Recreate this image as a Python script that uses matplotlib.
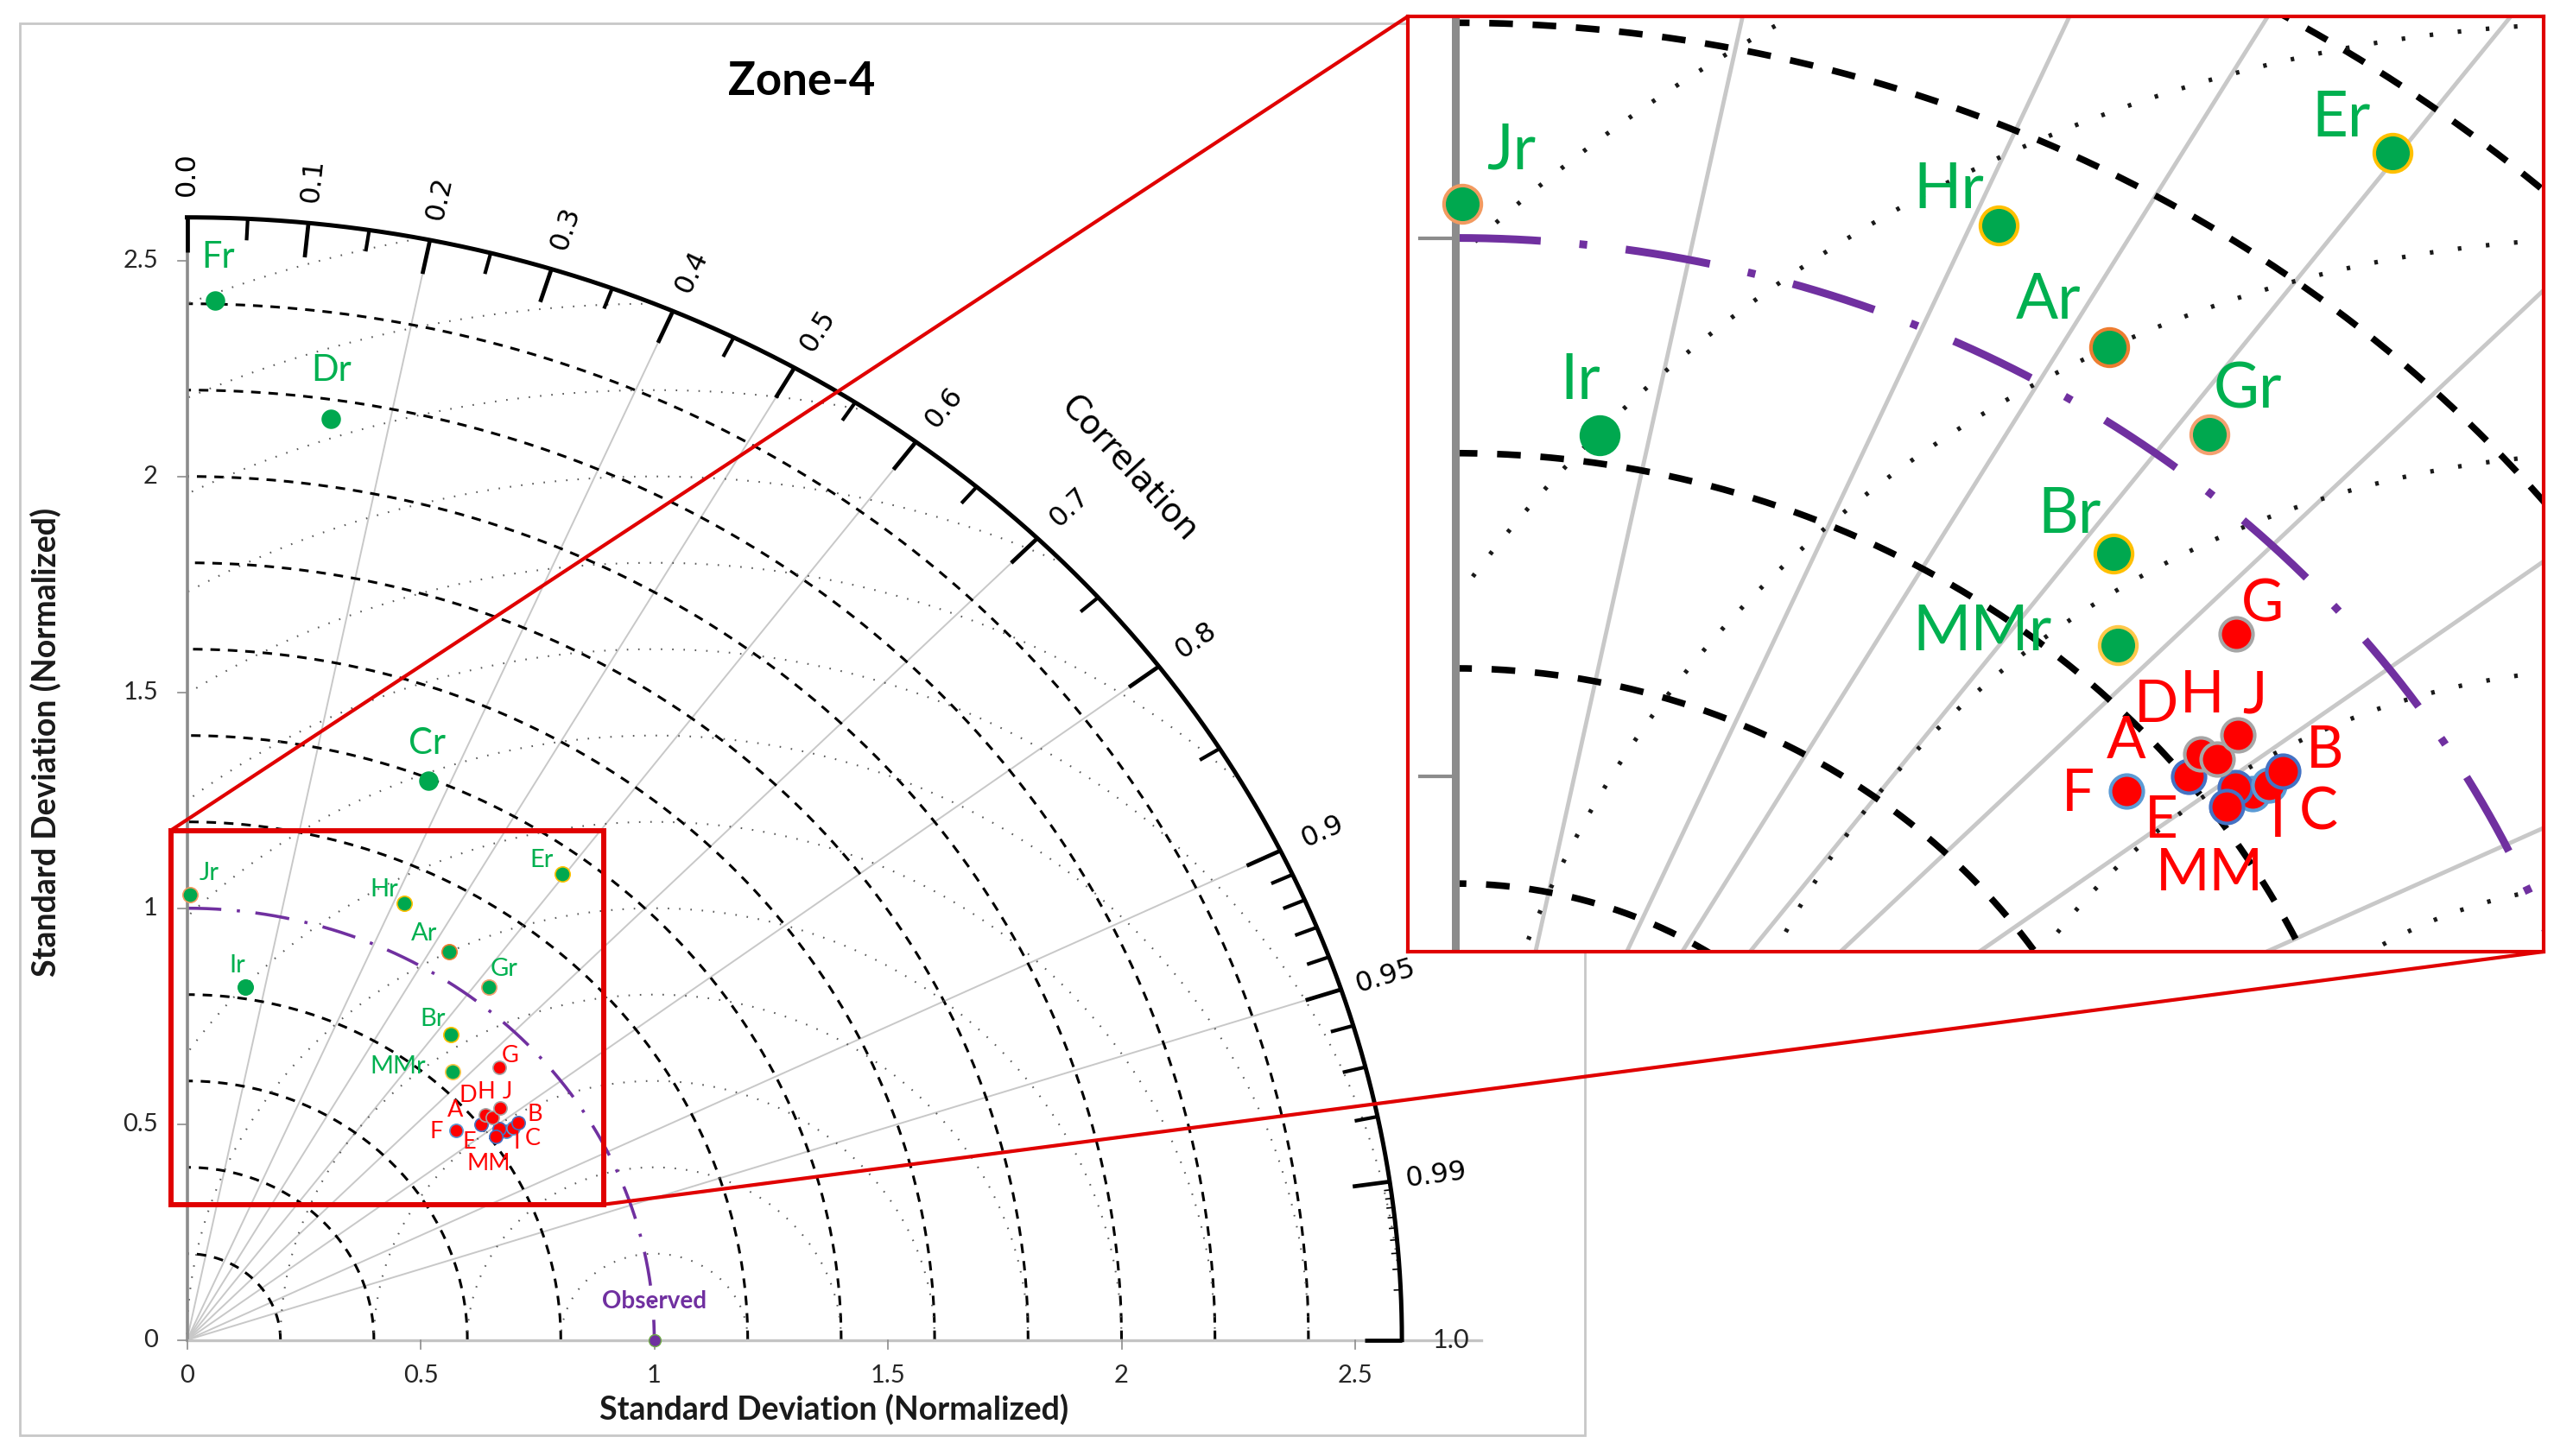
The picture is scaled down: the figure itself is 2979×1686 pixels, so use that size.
import numpy as np
import matplotlib
matplotlib.use("Agg")
import matplotlib.pyplot as plt
from matplotlib.patches import Rectangle, ConnectionPatch

# ---------------- data (normalized std and correlation of each run) ----------------
green_names = ["Fr", "Dr", "Cr", "Jr", "Hr", "Er", "Ar", "Ir", "Gr", "Br", "MMr"]
green_std = [2.408, 2.156, 1.394, 1.032, 1.114, 1.345, 1.059, 0.826, 1.042, 0.904, 0.842]
green_corr = [0.025, 0.143, 0.371, 0.006, 0.418, 0.597, 0.529, 0.150, 0.620, 0.624, 0.674]
green_edges = ["#00a84f", "#00a84f", "#00a84f", "#f29a60", "#ffc000", "#ffc000",
               "#ed7d31", "#00a84f", "#f4a070", "#ffc000", "#ffc84a"]

red_names = ["I", "MM", "C", "B", "E", "F", "A", "D", "H", "J", "G"]
red_std = [0.837, 0.828, 0.853, 0.870, 0.812, 0.753, 0.803, 0.824, 0.832, 0.860, 0.920]
red_corr = [0.816, 0.807, 0.817, 0.815, 0.814, 0.764, 0.783, 0.775, 0.785, 0.780, 0.727]
red_edges = ["#5b9bd5", "#4472c4", "#5b9bd5", "#4472c4", "#4472c4", "#5b9bd5",
             "#4472c4", "#a6a6a6", "#a6a6a6", "#a6a6a6", "#a6a6a6"]

obs_std = 1.0
corr_lines = [0.2, 0.4, 0.5, 0.6, 0.7, 0.8, 0.9, 0.95]
corr_major = [0.1, 0.2, 0.3, 0.4, 0.5, 0.6, 0.7, 0.8, 0.9, 0.95, 0.99]
corr_minor = [0.05, 0.15, 0.25, 0.35, 0.45, 0.55, 0.65, 0.75, 0.85,
              0.91, 0.92, 0.93, 0.94, 0.96, 0.97, 0.98]
corr_tiny = [0.991, 0.992, 0.993, 0.994, 0.995, 0.996, 0.997, 0.998, 0.999]
corr_labels = ["0.0", "0.1", "0.2", "0.3", "0.4", "0.5", "0.6", "0.7", "0.8", "0.9", "0.95", "0.99"]
std_arcs = [0.2, 0.4, 0.6, 0.8, 1.2, 1.4, 1.6, 1.8, 2.0, 2.2, 2.4]
rms_arcs = [0.2, 0.4, 0.6, 0.8, 1.0, 1.2, 1.4, 1.6, 1.8, 2.0, 2.2, 2.4, 2.6]
std_ticks = [0, 0.5, 1, 1.5, 2, 2.5]
RMAX = 2.6

# label offsets (data units) from each point
lab_off = {"Fr": (0.006, 0.10), "Dr": (0.0, 0.111), "Cr": (-0.004, 0.086),
           "Jr": (0.042, 0.049), "Hr": (-0.043, 0.032), "Er": (-0.044, 0.032),
           "Ar": (-0.052, 0.043), "Ir": (-0.017, 0.050), "Gr": (0.033, 0.041),
           "Br": (-0.038, 0.036), "MMr": (-0.116, 0.011),
           "G": (0.023, 0.027), "J": (0.014, 0.036), "D": (-0.038, 0.045),
           "H": (-0.013, 0.059), "A": (-0.054, 0.032), "F": (-0.042, -0.003),
           "E": (-0.056, -0.014), "MM": (-0.022, -0.080), "I": (0.022, -0.025),
           "C": (0.043, -0.026), "B": (0.036, 0.019)}

GREEN_TXT = "#00b050"
GREEN_DOT = "#00a84f"
RED = "#ff0000"
PURPLE = "#7030a0"
BOXRED = "#e00000"
LATO = ["Lato", "DejaVu Sans"]

W, H, DPI = 2979, 1686, 100
fig = plt.figure(figsize=(W / DPI, H / DPI), dpi=DPI)

def px_rect(x0, y0, x1, y1):
    return [x0 / W, 1 - y1 / H, (x1 - x0) / W, (y1 - y0) / H]

# main diagram: origin at (216.5, 1551.7) px, 541 px per unit in x, 500 in y
OX, OY, SX, SY = 216.5, 1551.7, 541.0, 500.0
xlim, ylim = (-0.38, 3.0), (-0.25, 3.05)
ax = fig.add_axes(px_rect(OX + xlim[0] * SX, OY - ylim[1] * SY,
                          OX + xlim[1] * SX, OY - ylim[0] * SY))
ax.set_xlim(*xlim)
ax.set_ylim(*ylim)
ax.axis("off")
ax.patch.set_visible(False)

gx = np.array(green_std) * np.array(green_corr)
gy = np.array(green_std) * np.sqrt(1 - np.array(green_corr) ** 2)
rx = np.array(red_std) * np.array(red_corr)
ry = np.array(red_std) * np.sqrt(1 - np.array(red_corr) ** 2)


def draw_grid(a, k, dotcol):
    t = np.linspace(0, np.pi / 2, 600)
    for c in corr_lines:
        th = np.arccos(c)
        a.plot([0, RMAX * np.cos(th)], [0, RMAX * np.sin(th)], color="#c8c8c8",
               lw=1.4 * k, zorder=1, solid_capstyle="butt")
    for r in std_arcs:
        a.plot(r * np.cos(t), r * np.sin(t), color="black", lw=2.2 * k,
               ls=(0, (3.6, 3.0)), zorder=2)
    phi = np.linspace(0, np.pi, 3000)
    for r in rms_arcs:
        x = obs_std + r * np.cos(phi)
        y = r * np.sin(phi)
        bad = (x < 0) | (x ** 2 + y ** 2 > RMAX ** 2)
        x[bad] = np.nan
        y[bad] = np.nan
        a.plot(x, y, color=dotcol, lw=1.5 * k, ls=(0, (0.8, 5.5)), zorder=2)
    tp = np.linspace(np.pi / 2, 0, 600)
    a.plot(obs_std * np.cos(tp), obs_std * np.sin(tp), color=PURPLE, lw=2.6 * k,
           ls=(0, (11, 5, 1, 5)), zorder=3)


def inside(a, x, y):
    x0, x1 = a.get_xlim()
    y0, y1 = a.get_ylim()
    return x0 - 0.03 <= x <= x1 + 0.03 and y0 - 0.03 <= y <= y1 + 0.03


def draw_points(a, k, big):
    for i, n in enumerate(green_names):
        if not inside(a, gx[i], gy[i]):
            continue
        ms = 15 if (n in big and k == 1) else 12.5 * k
        a.plot(gx[i], gy[i], "o", ms=ms, mfc=GREEN_DOT, mec=green_edges[i],
               mew=1.2 * k, zorder=5)
        fs = 30 if (n in big and k == 1) else 21 * k
        dx, dy = lab_off[n]
        a.text(gx[i] + dx, gy[i] + dy, n, color=GREEN_TXT, fontsize=fs,
               family=LATO, ha="center", va="center", zorder=6, clip_on=True)
    for i, n in enumerate(red_names):
        if not inside(a, rx[i], ry[i]):
            continue
        a.plot(rx[i], ry[i], "o", ms=11 * k, mfc=RED, mec=red_edges[i],
               mew=1.2 * k, zorder=5)
        dx, dy = lab_off[n]
        a.text(rx[i] + dx, ry[i] + dy, n, color=RED, fontsize=19.5 * k,
               family=LATO, ha="center", va="center", zorder=6, clip_on=True)


draw_grid(ax, 1, "#5a5a5a")

# axes lines
ax.plot([0, 0], [0, RMAX], color="#8c8c8c", lw=2.6, zorder=3)
ax.plot([0, 2.77], [0, 0], color="#c4c4c4", lw=2.4, zorder=3)
for s in std_ticks:
    ax.plot([-0.02, 0], [s, s], color="#8c8c8c", lw=1.2, zorder=3)
    ax.plot([s, s], [0, -0.02], color="#8c8c8c", lw=1.2, zorder=3)
    lab = "0" if s == 0 else ("%g" % s)
    ax.text(-0.062, s, lab, ha="right", va="center", fontsize=21, family=LATO,
            color="#262626")
    ax.text(s, -0.083, lab, ha="center", va="center", fontsize=21, family=LATO,
            color="#262626")

# outer correlation arc with ticks and labels
t = np.linspace(0, np.pi / 2, 800)
ax.plot(RMAX * np.cos(t), RMAX * np.sin(t), color="black", lw=3.6, zorder=4)


def tick(c, L, lw):
    th = np.arccos(c)
    ax.plot([RMAX * np.cos(th), (RMAX - L) * np.cos(th)],
            [RMAX * np.sin(th), (RMAX - L) * np.sin(th)], color="black", lw=lw,
            zorder=4, solid_capstyle="butt")


for c in [0.0] + corr_major + [1.0]:
    tick(c, 0.08, 3.4)
for c in corr_minor:
    tick(c, 0.05, 3.0)
for c in corr_tiny:
    tick(c, 0.015, 1.2)

for lab, c in zip(corr_labels, [0.0, 0.1, 0.2, 0.3, 0.4, 0.5, 0.6, 0.7, 0.8, 0.9, 0.95, 0.99]):
    th = np.arccos(c)
    rot = np.degrees(np.arctan2(SY * np.sin(th), SX * np.cos(th)))
    ax.text(2.70 * np.cos(th), 2.70 * np.sin(th), lab, rotation=rot,
            rotation_mode="anchor", ha="center", va="center", fontsize=23,
            family="DejaVu Sans", color="black")
ax.text(2.705, 0.0, "1.0", ha="center", va="center", fontsize=22, family=LATO,
        color="#262626")
rot = np.degrees(np.arctan2(SY * np.sin(np.pi / 4), SX * np.cos(np.pi / 4))) - 90
ax.text(2.854 * np.cos(np.pi / 4), 2.854 * np.sin(np.pi / 4), "Correlation",
        rotation=rot, rotation_mode="anchor", ha="center", va="center",
        fontsize=28, family="DejaVu Sans", color="black")

draw_points(ax, 1, ["Fr", "Dr", "Cr"])

ax.plot(obs_std, 0, "o", ms=10, mfc=PURPLE, mec="#70ad47", mew=1.0, zorder=6)
ax.text(1.001, 0.090, "Observed", color=PURPLE, fontsize=20, fontweight="bold",
        family=LATO, ha="center", va="center", zorder=6)

ax.text(1.315, 2.915, "Zone-4", fontsize=38, fontweight="bold", family=LATO,
        ha="center", va="center", color="black")
ax.text(1.384, -0.161, "Standard Deviation (Normalized)", fontsize=27,
        fontweight="bold", family=LATO, ha="center", va="center", color="#1a1a1a")
ax.text(-0.302, 1.385, "Standard Deviation (Normalized)", fontsize=27,
        fontweight="bold", family=LATO, ha="center", va="center", rotation=90,
        color="#1a1a1a")

# zoom box in the main diagram
bx0, bx1, by0, by1 = -0.035, 0.892, 0.314, 1.18
ax.add_patch(Rectangle((bx0, by0), bx1 - bx0, by1 - by0, fill=False,
                       ec=BOXRED, lw=4.3, zorder=8))

# ---------------- magnified inset ----------------
axin = fig.add_axes(px_rect(1630, 19, 2945, 1102))
axin.set_xlim(-0.0407, 0.9326)
axin.set_ylim(0.3367, 1.2059)
axin.set_xticks([])
axin.set_yticks([])
for sp in axin.spines.values():
    sp.set_color(BOXRED)
    sp.set_linewidth(3.0)
    sp.set_zorder(10)

K = 2.49
draw_grid(axin, K, "#1a1a1a")
axin.plot([0, 0], [0, RMAX], color="#8c8c8c", lw=2.6 * K, zorder=3)
for s in [0.5, 1.0]:
    axin.plot([-0.03, 0], [s, s], color="#8c8c8c", lw=1.2 * K, zorder=3)
draw_points(axin, K, [])

# connector lines and outer frame (frame sits under the inset)
for xyA, xyB in [((bx0, by1), (0, 1)), ((bx1, by0), (1, 0))]:
    con = ConnectionPatch(xyA=xyA, coordsA=ax.transData, xyB=xyB,
                          coordsB=axin.transAxes, color=BOXRED, lw=3.0, zorder=9)
    fig.add_artist(con)

frame = Rectangle((23 / W, 1 - 1662 / H), (1835 - 23) / W, (1662 - 27) / H,
                  transform=fig.transFigure, fill=False, ec="#c8c8c8", lw=2.0,
                  zorder=-1)
fig.add_artist(frame)

fig.savefig("out.png", dpi=DPI, facecolor="white")
